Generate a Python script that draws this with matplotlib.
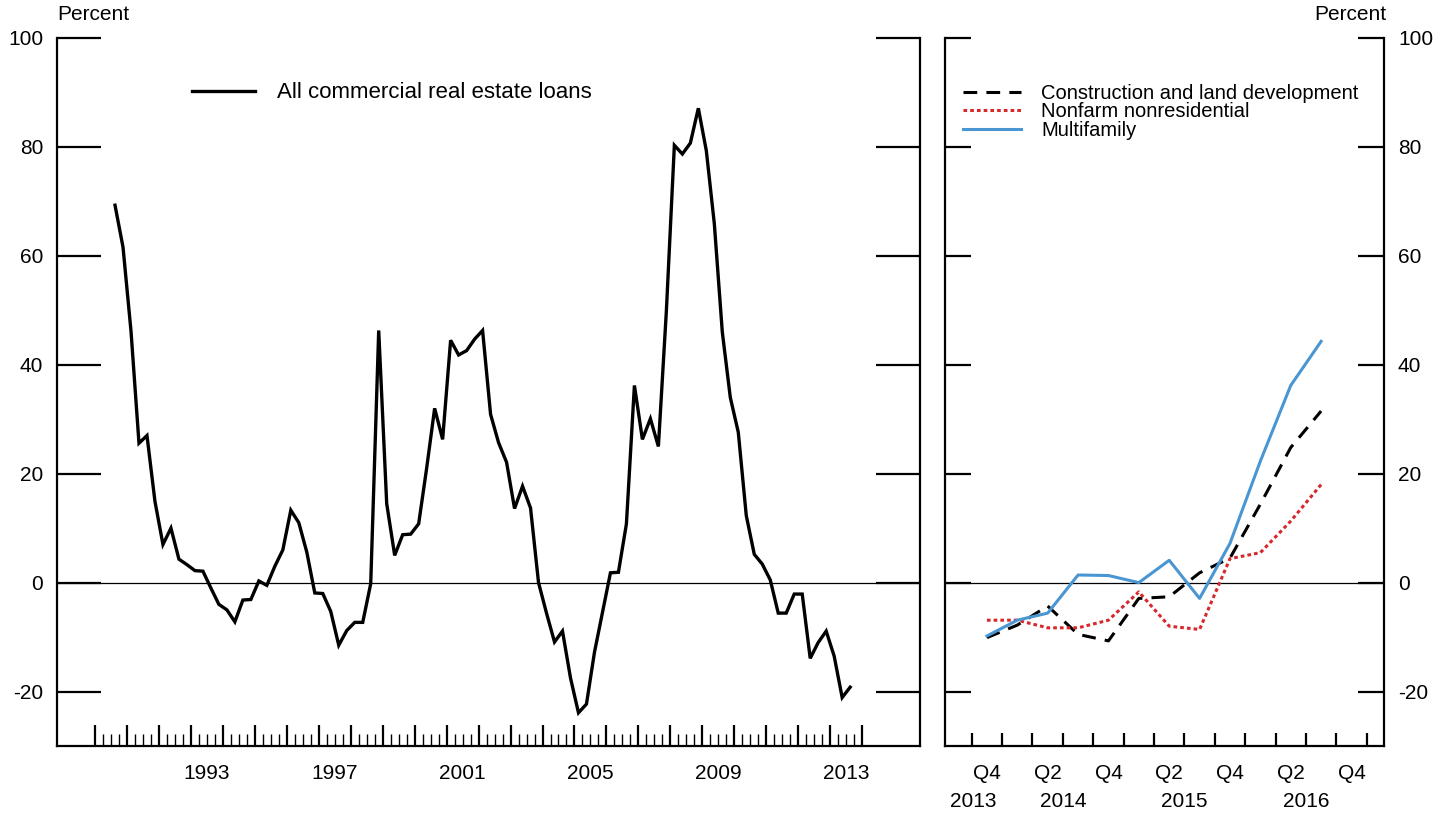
import matplotlib
matplotlib.use('Agg')
import matplotlib.pyplot as plt
import matplotlib.transforms as mtransforms
from matplotlib.ticker import FixedLocator, NullFormatter
import numpy as np
import pandas as pd

plt.rcParams['font.family'] = ['Liberation Sans', 'DejaVu Sans']
plt.rcParams['font.size'] = 15
plt.rcParams['axes.unicode_minus'] = False

# ---------------- data ----------------
cre_first_quarter = '1990Q3'
cre_last_quarter = '2013Q3'
cre_values = [
    69.3, 61.6,
    46.2, 25.6, 27.0, 14.9,
    7.0, 10.0, 4.3, 3.3,
    2.2, 2.1, -1.0, -4.0,
    -5.0, -7.2, -3.2, -3.1,
    0.3, -0.5, 3.0, 6.0,
    13.3, 11.0, 5.6, -1.9,
    -2.0, -5.3, -11.5, -8.8,
    -7.3, -7.3, -0.2, 46.3,
    14.5, 5.0, 8.8, 8.9,
    10.8, 21.0, 32.0, 26.3,
    44.5, 41.8, 42.6, 44.7,
    46.3, 30.9, 25.7, 22.1,
    13.6, 17.7, 13.7, 0.0,
    -5.6, -10.9, -8.9, -17.5,
    -23.9, -22.3, -12.8, -5.5,
    1.8, 1.9, 10.8, 36.2,
    26.3, 30.1, 25.0, 49.9,
    80.3, 78.7, 80.7, 87.1,
    79.3, 65.9, 46.0, 34.0,
    27.6, 12.3, 5.2, 3.4,
    0.5, -5.6, -5.6, -2.1,
    -2.1, -13.9, -11.0, -8.9,
    -13.5, -21.1, -19.2,
]
left_year_labels = [1993, 1997, 2001, 2005, 2009, 2013]

right_first_quarter = '2013Q4'
right_last_quarter = '2016Q3'
construction = [-10.1, -7.8, -4.3, -9.5, -10.7, -2.9, -2.6, 1.8, 4.5, 14.4, 24.8, 31.5]
nonfarm = [-6.9, -6.9, -8.3, -8.3, -6.9, -1.7, -8.0, -8.6, 4.4, 5.5, 11.3, 18.0]
multifamily = [-9.8, -6.9, -5.6, 1.4, 1.3, 0.0, 4.1, -2.9, 7.2, 22.3, 36.2, 44.3]
right_q_labels = ['Q4', 'Q2', 'Q4', 'Q2', 'Q4', 'Q2', 'Q4']
right_year_labels = ['2013', '2014', '2015', '2016']

y_ticks = [-20, 0, 20, 40, 60, 80, 100]

# ---------------- derived positions ----------------
cre_q = pd.period_range(cre_first_quarter, cre_last_quarter, freq='Q')
cre_x = np.array([p.year + (p.quarter - 0.5) / 4 for p in cre_q])

r_q = pd.period_range(right_first_quarter, right_last_quarter, freq='Q')
r_x = np.arange(len(r_q))

# ---------------- figure ----------------
W, H = 1445, 813
fig = plt.figure(figsize=(W / 100, H / 100), dpi=100)

def frac_box(x0, x1, ytop, ybot):
    return [x0 / W, 1 - ybot / H, (x1 - x0) / W, (ybot - ytop) / H]

axL = fig.add_axes(frac_box(57, 920, 38, 746))
axR = fig.add_axes(frac_box(945, 1384, 38, 746))

spine_w = 1.6
for ax in (axL, axR):
    ax.set_ylim(-30, 100)
    ax.spines['top'].set_visible(False)
    for s in ('left', 'right', 'bottom'):
        ax.spines[s].set_linewidth(spine_w)
    ax.axhline(0, color='black', lw=0.9, zorder=1)
    ax.yaxis.set_major_locator(FixedLocator(y_ticks))

# ---- left panel ----
axL.set_xlim(1988.81, 2015.81)
axL.plot(cre_x, cre_values, color='black', lw=2.4, solid_joinstyle='miter',
         label='All commercial real estate loans', zorder=3)
axL.xaxis.set_major_locator(FixedLocator(np.arange(1990, 2015)))
axL.xaxis.set_minor_locator(FixedLocator(np.arange(1990.25, 2014, 0.25)))
axL.xaxis.set_major_formatter(NullFormatter())
axL.tick_params(axis='x', which='major', direction='in', length=15, width=1.6)
axL.tick_params(axis='x', which='minor', direction='in', length=9, width=1.0)
axL.tick_params(axis='y', which='major', direction='in', length=32, width=1.6,
                left=True, right=True, labelleft=True, labelright=False, pad=10)
transL = mtransforms.blended_transform_factory(axL.transData, axL.transAxes)
for yr in left_year_labels:
    axL.text(yr + 0.5, -0.039, str(yr), transform=transL, ha='center', va='center')

legL = axL.legend(loc='center left', bbox_to_anchor=((192 - 57) / 863, (746 - 93) / 708),
                  frameon=False, borderpad=0, borderaxespad=0, fontsize=16,
                  handlelength=2.85, handletextpad=0.98)

# ---- right panel ----
axR.set_xlim(-1.38, 13.07)
axR.plot(r_x, construction, color='black', lw=2.2, dashes=(4.5, 3.0),
         label='Construction and land development', zorder=3)
axR.plot(r_x, nonfarm, color='#d7282c', lw=2.2, dashes=(1.2, 1.0),
         label='Nonfarm nonresidential', zorder=3)
axR.plot(r_x, multifamily, color='#4a96d2', lw=2.2,
         label='Multifamily', zorder=3)
axR.xaxis.set_major_locator(FixedLocator(np.arange(-0.5, 13, 1)))
axR.xaxis.set_major_formatter(NullFormatter())
axR.tick_params(axis='x', which='major', direction='in', length=9.5, width=1.6)
axR.tick_params(axis='y', which='major', direction='in', length=19, width=1.6,
                left=True, right=True, labelleft=False, labelright=True, pad=10)
transR = mtransforms.blended_transform_factory(axR.transData, axR.transAxes)
for i, lab in enumerate(right_q_labels):
    axR.text(2 * i, -0.039, lab, transform=transR, ha='center', va='center')
for xpos, lab in zip([-0.45, 2.5, 6.5, 10.5], right_year_labels):
    axR.text(xpos, -0.079, lab, transform=transR, ha='center', va='center')

legR = axR.legend(loc='center left', bbox_to_anchor=((963 - 945) / 439, (746 - 111.7) / 708),
                  frameon=False, borderpad=0, borderaxespad=0, fontsize=14.5,
                  handlelength=2.88, handletextpad=1.0, labelspacing=-0.02)

# ---- unit labels ----
fig.text(57 / W, 1 - 15 / H, 'Percent', ha='left', va='center')
fig.text(1386 / W, 1 - 15 / H, 'Percent', ha='right', va='center')

fig.savefig('out.png', dpi=100)
